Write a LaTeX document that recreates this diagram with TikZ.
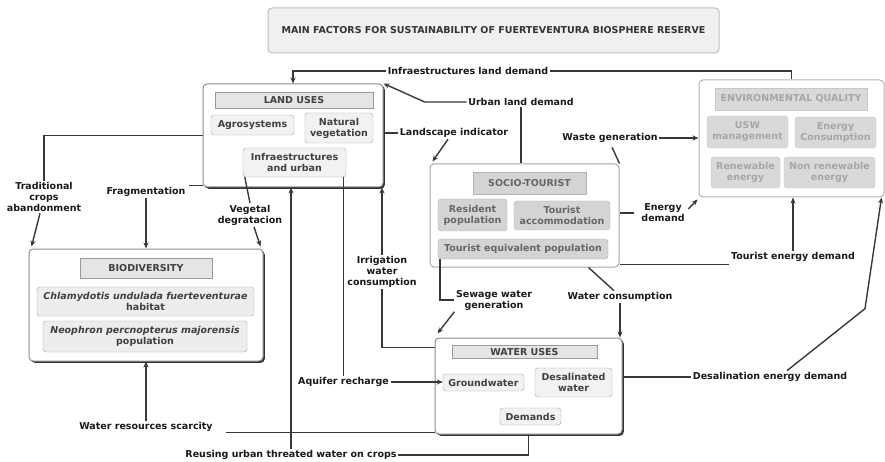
\documentclass[tikz,border=0pt]{standalone}
\usepackage{fontspec}
\setmainfont{DejaVu Sans}
\usepackage{xcolor}
\usetikzlibrary{arrows.meta, positioning, calc, shadows}

\definecolor{linegray}{HTML}{383838}

\begin{document}
\begin{tikzpicture}[
  x=1pt, y=-1pt,
  font=\fontsize{9.5}{11}\selectfont\bfseries,
  sz/.style 2 args = {minimum width=#1pt, minimum height=#2pt},
  mainbox/.style  = {draw=black!45, rounded corners=4pt, line width=1pt,
                     fill=white, inner sep=0pt},
  shadebox/.style = {mainbox, drop shadow={shadow xshift=1.8pt,
                     shadow yshift=-1.8pt, fill=black!80, opacity=1}},
  headbox/.style  = {draw=black!40, fill=black!10, inner sep=0pt, text=black!75},
  itembox/.style  = {draw=black!35, fill=black!5, rounded corners=3pt,
                     inner sep=0pt, align=center, text=black!75},
  stbox/.style    = {itembox, draw=black!30, fill=black!17, text=black!60},
  eqbox/.style    = {itembox, draw=black!22, fill=black!15, text=black!35},
  lbl/.style      = {align=center, inner sep=1.5pt, text=black!90},
  conn/.style     = {draw=linegray, line width=1.4pt},
  arr/.style      = {conn, -{Stealth[length=6pt, width=5pt]}},
]
\useasboundingbox (0,0) rectangle (885,462);

% title
\node[mainbox, sz={451}{45}, fill=black!6, draw=black!25, text=black!80] (title)
  at (493.5,30.5) {MAIN FACTORS FOR SUSTAINABILITY OF FUERTEVENTURA BIOSPHERE RESERVE};

% land uses
\node[shadebox, sz={180}{103}] (landuses) at (293,135.5) {};
\node[headbox, sz={158}{16}]   (luhead) at (294,100)   {LAND USES};
\node[itembox, sz={83}{20}]    (agro)   at (252.5,125) {Agrosystems};
\node[itembox, sz={68}{30}]    (natveg) at (339,128)   {Natural\\vegetation};
\node[itembox, sz={103}{29}]   (infra)  at (294.5,162.5) {Infraestructures\\and urban};

% socio-tourist
\node[mainbox, sz={189}{103}, draw=black!35] (socio) at (524.5,215.5) {};
\node[headbox, sz={113}{22}, fill=black!17, draw=black!30, text=black!60]
  (sthead) at (529.5,183) {SOCIO-TOURIST};
\node[stbox, sz={69}{32}]  (resid)   at (472.5,215)   {Resident\\population};
\node[stbox, sz={96}{29}]  (touracc) at (562,215.5)   {Tourist\\accommodation};
\node[stbox, sz={170}{20}] (toureq)  at (523,249)     {Tourist equivalent population};

% environmental quality
\node[mainbox, sz={185}{117}, draw=black!30] (envq) at (791.5,138.5) {};
\node[headbox, sz={152}{22}, fill=black!15, draw=black!22, text=black!35]
  (eqhead) at (791,99) {ENVIRONMENTAL QUALITY};
\node[eqbox, sz={81}{32}] (usw)      at (747.5,132)   {USW\\management};
\node[eqbox, sz={81}{31}] (encons)   at (835.5,132.5) {Energy\\Consumption};
\node[eqbox, sz={69}{31}] (renew)    at (745.5,172.5) {Renewable\\energy};
\node[eqbox, sz={91}{31}] (nonrenew) at (829.5,172.5) {Non renewable\\energy};

% biodiversity
\node[shadebox, sz={234}{112}] (biodiv) at (146,305) {};
\node[headbox, sz={132}{20}]   (bdhead) at (146,268) {BIODIVERSITY};
\node[itembox, sz={217}{29}, fill=black!7] (chlam) at (145.5,301.5)
  {\itshape Chlamydotis undulada fuerteventurae\\habitat};
\node[itembox, sz={204}{31}, fill=black!7] (neoph) at (145,336.5)
  {\itshape Neophron percnopterus majorensis\\population};

% water uses
\node[shadebox, sz={187}{96}] (water) at (528.5,386) {};
\node[headbox, sz={145}{13}]  (wuhead)  at (524.5,352) {WATER USES};
\node[itembox, sz={81}{17}]   (ground)  at (483.5,382.5) {Groundwater};
\node[itembox, sz={77}{29}]   (desal)   at (573.5,382.5) {Desalinated\\water};
\node[itembox, sz={61}{17}]   (demands) at (530.5,416.5) {Demands};

% labels
\node[lbl] (l_infra)   at (468,71)    {Infraestructures land demand};
\node[lbl] (l_urban)   at (521,102)   {Urban land demand};
\node[lbl] (l_landsc)  at (454,133)   {Landscape indicator};
\node[lbl] (l_waste)   at (610,138)   {Waste generation};
\node[lbl] (l_energy)  at (663,213)   {Energy\\demand};
\node[lbl] (l_tourEn)  at (793,257)   {Tourist energy demand};
\node[lbl] (l_desal)   at (770,377)   {Desalination energy demand};
\node[lbl] (l_watcons) at (620,297)   {Water consumption};
\node[lbl] (l_sewage)  at (494,300)   {Sewage water\\generation};
\node[lbl] (l_irrig)   at (382,272)   {Irrigation\\water\\consumption};
\node[lbl] (l_aquif)   at (343.5,382) {Aquifer recharge};
\node[lbl] (l_reuse)   at (291,455)   {Reusing urban threated water on crops};
\node[lbl] (l_scarc)   at (146,427)   {Water resources scarcity};
\node[lbl] (l_veget)   at (250,215)   {Vegetal\\degratacion};
\node[lbl] (l_frag)    at (146,192)   {Fragmentation};
\node[lbl] (l_trad)    at (44,197)    {Traditional\\crops\\abandonment};

% top connectors
\draw[conn] (envq.north) |- (l_infra.east);
\draw[arr]  (l_infra.west) -| (landuses.north);
\draw[conn] (l_urban.south |- socio.north) -- (l_urban.south);
\draw[arr]  (l_urban.west) -- ++(-42,0) -- (landuses.north east);
\draw[conn] (landuses.east |- l_landsc.west) -- (l_landsc.west);
\draw[arr]  ($(l_landsc.south)+(-6,0)$) -- ($(socio.north west)+(3,-2)$);
\draw[conn] (socio.north east) -- ($(l_waste.south)+(2,3)$);
\draw[arr]  (l_waste.east) -- (envq.west |- l_waste.east);

% energy
\draw[conn] (socio.east |- l_energy.west) -- ++(14,0);
\draw[arr]  ($(l_energy.east)+(2,-4)$) -- ($(envq.south west)+(-1,2)$);
\draw[conn] ($(socio.south east)+(0,-3)$) -- ($(socio.south east -| l_tourEn.west)+(0,-3)$);
\draw[arr]  (l_tourEn.north) -- (l_tourEn.north |- envq.south);
\draw[conn] (water.east |- l_desal.west) -- (l_desal.west);
\draw[arr]  ($(l_desal.north)+(17,0)$) -- ++(78,-62) -- ($(envq.south east)+(-3,0)$);

% water
\draw[conn] ($(socio.south)+(64,0)$) -- ($(l_watcons.north)+(-6,0)$);
\draw[arr]  (l_watcons.south) -- (l_watcons.south |- water.north);
\draw[conn] ($(toureq.south west)+(2,0)$) |- (l_sewage.west);
\draw[arr]  (l_sewage.south west) -- ($(water.north west)+(3,-4)$);
\draw[arr]  (l_irrig.north) -- (l_irrig.north |- landuses.south);
\draw[conn] (l_irrig.south) |- ($(water.north west)+(0,10)$);
\draw[arr]  (l_aquif.east) -- (ground.west |- l_aquif.east);
\draw[conn] (infra.south -| l_aquif.north) -- (l_aquif.north);
\draw[conn] (water.south) |- (l_reuse.east);
\draw[arr]  (l_reuse.north) -- (l_reuse.north |- landuses.south);
\draw[conn] ($(water.south west)+(0,-2)$) -- ($(water.south west -| l_scarc.east)+(12,-2)$);
\draw[arr]  (l_scarc.north) -- (l_scarc.north |- biodiv.south);

% biodiversity
\draw[conn] ($(infra.south west)+(2,0)$) -- (l_veget.north);
\draw[arr]  ($(l_veget.south)+(4,0)$) -- ($(biodiv.north east)+(-3,-2)$);
\draw[conn] ($(landuses.south west)+(0,-2)$) -- ($(landuses.south west -| l_frag.east)+(2,-2)$);
\draw[arr]  (l_frag.south) -- (l_frag.south |- biodiv.north);
\draw[conn] ($(landuses.north west)+(0,52)$) -| (l_trad.north);
\draw[arr]  ($(l_trad.south)+(-4,0)$) -- ($(biodiv.north west)+(3,-2)$);

\end{tikzpicture}
\end{document}
